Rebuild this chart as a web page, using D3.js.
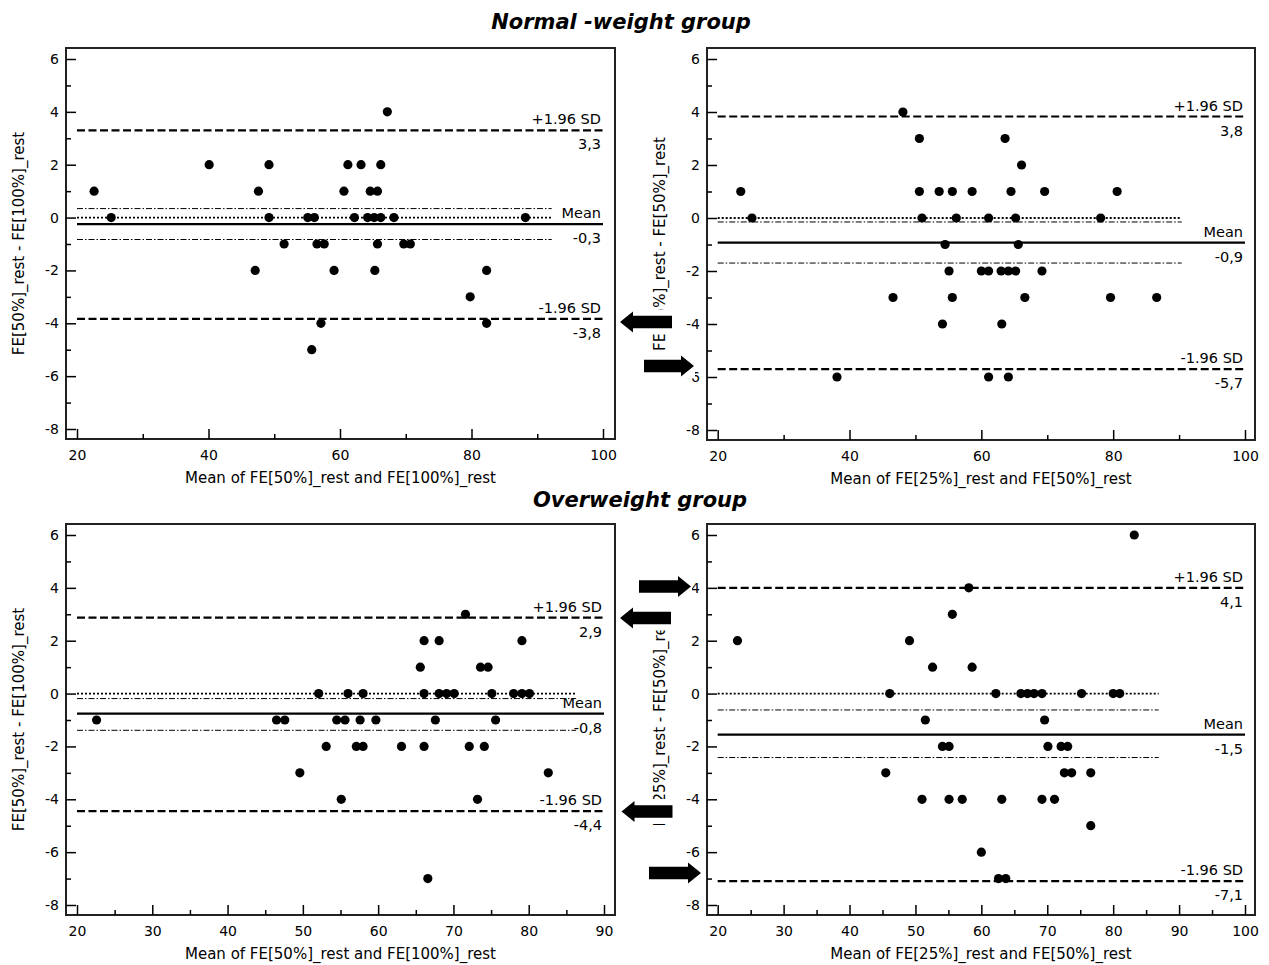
<!DOCTYPE html>
<html>
<head>
<meta charset="utf-8">
<script src="https://cdn.jsdelivr.net/npm/d3@7"></script>
<style>
  body { margin: 0; background: #fff; }
  svg text { font-family: 'DejaVu Sans', Verdana, sans-serif; fill: #000; }
</style>
</head>
<body>
<svg id="chart" width="1269" height="965"></svg>
<script>
// Bland-Altman plots, FE at rest. Panels: [normal 50/100, normal 25/50, over 50/100, over 25/50]

// normal-weight, FE[50%] vs FE[100%]
const normal50Mean = [22.6, 25.2, 40.1, 47.6, 49.2, 49.2, 47.1, 51.5, 55.1, 56.1, 56.5, 57.6, 57.1, 55.7,
  67.2, 61.2, 63.2, 66.2, 60.6, 64.6, 65.7, 62.2, 64.2, 65.2, 66.2, 68.2, 88.2, 59.1, 65.3, 65.7, 69.7,
  70.7, 82.3, 79.8, 82.3];
const normal50Diff = [1, 0, 2, 1, 2, 0, -2, -1, 0, 0, -1, -1, -4, -5,
  4, 2, 2, 2, 1, 1, 1, 0, 0, 0, 0, 0, 0, -2, -2, -1, -1,
  -1, -2, -3, -4];

// normal-weight, FE[25%] vs FE[50%]
const normal25Mean = [23.5, 25.2, 48.1, 50.6, 50.6, 53.6, 51.0, 46.6, 38.1, 55.6, 58.6, 64.5, 69.6, 80.6,
  63.6, 66.1, 56.2, 61.1, 65.2, 78.1, 54.5, 65.6, 55.1, 60.0, 61.1, 63.0, 64.1, 65.2, 69.2, 55.6, 66.6,
  79.6, 86.6, 54.1, 63.1, 61.1, 64.1];
const normal25Diff = [1, 0, 4, 3, 1, 1, 0, -3, -6, 1, 1, 1, 1, 1,
  3, 2, 0, 0, 0, 0, -1, -1, -2, -2, -2, -2, -2, -2, -2, -3, -3,
  -3, -3, -4, -4, -6, -6];

// overweight, FE[50%] vs FE[100%]
const over50Mean = [22.6, 46.5, 47.6, 49.6, 52.1, 53.1, 56.0, 58.0, 66.1, 68.1, 69.1, 70.1, 75.1, 78.0,
  79.1, 80.1, 71.6, 66.1, 68.1, 79.1, 65.6, 73.6, 74.6, 54.5, 55.6, 57.6, 59.7, 67.6, 75.6, 57.1, 58.0,
  63.1, 66.1, 72.1, 74.1, 82.6, 55.1, 73.2, 66.6];
const over50Diff = [-1, -1, -1, -3, 0, -2, 0, 0, 0, 0, 0, 0, 0, 0,
  0, 0, 3, 2, 2, 2, 1, 1, 1, -1, -1, -1, -1, -1, -1, -2, -2,
  -2, -2, -2, -2, -3, -4, -4, -7];

// overweight, FE[25%] vs FE[50%]
const over25Mean = [23.0, 49.1, 52.6, 46.1, 51.5, 45.5, 51.0, 83.2, 58.1, 55.6, 58.6, 62.2, 66.0, 67.0,
  68.0, 69.2, 75.2, 80.0, 81.0, 69.6, 54.1, 55.1, 70.1, 72.1, 73.1, 72.6, 73.7, 76.6, 55.1, 57.1,
  63.1, 69.2, 71.1, 76.6, 60.0, 62.6, 63.7];
const over25Diff = [2, 2, 1, 0, -1, -3, -4, 6, 4, 3, 1, 0, 0, 0,
  0, 0, 0, 0, 0, -1, -2, -2, -2, -2, -2, -3, -3, -3, -4, -4,
  -4, -4, -4, -5, -6, -7, -7];

// limits of agreement and 95% CI of the mean difference, one entry per panel
const loaUpper = [3.30, 3.83, 2.87, 4.00];
const loaLower = [-3.83, -5.70, -4.45, -7.10];
const meanDiff = [-0.25, -0.93, -0.76, -1.55];
const ciHigh = [0.34, -0.15, -0.19, -0.62];
const ciLow = [-0.83, -1.70, -1.39, -2.42];
const ciEnd = [92.2, 90.4, 86.3, 86.9];   // x where equality / CI lines stop
const upperLabels = ['3,3', '3,8', '2,9', '4,1'];
const meanLabels = ['-0,3', '-0,9', '-0,8', '-1,5'];
const lowerLabels = ['-3,8', '-5,7', '-4,4', '-7,1'];

const xDomains = [[20, 100], [20, 100], [20, 90], [20, 100]];
const xMajorTicks = [[20, 40, 60, 80, 100], [20, 40, 60, 80, 100],
  [20, 30, 40, 50, 60, 70, 80, 90], [20, 30, 40, 50, 60, 70, 80, 90, 100]];
const xMinorTicks = [[30, 50, 70, 90], [30, 50, 70, 90],
  [25, 35, 45, 55, 65, 75, 85], [25, 35, 45, 55, 65, 75, 85, 95]];
const yMajorTicks = [-8, -6, -4, -2, 0, 2, 4, 6];
const yMinorTicks = [-7, -5, -3, -1, 1, 3, 5];

const xTitles = ['Mean of FE[50%]_rest and FE[100%]_rest', 'Mean of FE[25%]_rest and FE[50%]_rest',
  'Mean of FE[50%]_rest and FE[100%]_rest', 'Mean of FE[25%]_rest and FE[50%]_rest'];
const yTitles = ['FE[50%]_rest - FE[100%]_rest', 'FE[25%]_rest - FE[50%]_rest',
  'FE[50%]_rest - FE[100%]_rest', 'FE[25%]_rest - FE[50%]_rest'];
const groupTitles = ['Normal -weight group', 'Overweight group'];

const seriesMean = [normal50Mean, normal25Mean, over50Mean, over25Mean];
const seriesDiff = [normal50Diff, normal25Diff, over50Diff, over25Diff];

// pixel layout of each panel frame
const layout = [
  { left: 66, right: 615, top: 48, bottom: 439, x0: 77, x1: 603, yTitleX: 24 },
  { left: 707, right: 1255, top: 48, bottom: 440, x0: 717.7, x1: 1245, yTitleX: 665 },
  { left: 66, right: 615, top: 524, bottom: 915, x0: 77, x1: 604, yTitleX: 24 },
  { left: 707, right: 1255, top: 524, bottom: 915, x0: 717.7, x1: 1245, yTitleX: 665 }
];

const svg = d3.select('#chart');
const plain = d => String(d);   // hyphen minus, as in the original figure

function drawPanel(i) {
  const L = layout[i];
  const x = d3.scaleLinear().domain(xDomains[i]).range([L.x0, L.x1]);
  const y = d3.scaleLinear().domain([-8, 6]).range([L.bottom - 10, L.top + 11]);
  const g = svg.append('g');
  const xStart = xDomains[i][0], xStop = xDomains[i][1];

  g.append('rect')
    .attr('x', L.left).attr('y', L.top)
    .attr('width', L.right - L.left).attr('height', L.bottom - L.top)
    .attr('fill', 'none').attr('stroke', '#222').attr('stroke-width', 2);

  const hline = (v, x2, width, dash) => g.append('line')
    .attr('x1', x(xStart)).attr('x2', x(x2))
    .attr('y1', y(v)).attr('y2', y(v))
    .attr('stroke', '#000').attr('stroke-width', width)
    .attr('stroke-dasharray', dash);

  hline(0, ciEnd[i], 1.8, '2,2');
  hline(ciHigh[i], ciEnd[i], 1, '6,2,1.5,2');
  hline(ciLow[i], ciEnd[i], 1, '6,2,1.5,2');
  hline(meanDiff[i], xStop, 2.2, null);
  hline(loaUpper[i], xStop, 2.2, '8,3.5');
  hline(loaLower[i], xStop, 2.2, '8,3.5');

  g.append('g').selectAll('circle')
    .data(d3.zip(seriesMean[i], seriesDiff[i]))
    .join('circle')
    .attr('cx', d => x(d[0]))
    .attr('cy', d => y(d[1]))
    .attr('r', 4.6)
    .attr('fill', '#000');

  // right-aligned labels above/below each reference line
  const lx = x(xStop) - 2;
  const lineLabel = (v, above, below) => {
    g.append('text').attr('x', lx).attr('y', y(v) - 6)
      .attr('text-anchor', 'end').attr('font-size', 14.5).text(above);
    g.append('text').attr('x', lx).attr('y', y(v) + 19)
      .attr('text-anchor', 'end').attr('font-size', 14.5).text(below);
  };
  lineLabel(loaUpper[i], '+1.96 SD', upperLabels[i]);
  lineLabel(meanDiff[i], 'Mean', meanLabels[i]);
  lineLabel(loaLower[i], '-1.96 SD', lowerLabels[i]);

  // inward ticks on left and bottom
  g.append('g').attr('transform', `translate(${L.left},0)`)
    .call(d3.axisLeft(y).tickValues(yMajorTicks).tickSize(-10).tickPadding(7).tickFormat(plain));
  g.append('g').attr('transform', `translate(${L.left},0)`)
    .call(d3.axisLeft(y).tickValues(yMinorTicks).tickSize(-5).tickFormat(''));
  g.append('g').attr('transform', `translate(0,${L.bottom})`)
    .call(d3.axisBottom(x).tickValues(xMajorTicks[i]).tickSize(-10).tickPadding(11).tickFormat(plain));
  g.append('g').attr('transform', `translate(0,${L.bottom})`)
    .call(d3.axisBottom(x).tickValues(xMinorTicks[i]).tickSize(-5).tickFormat(''));

  g.selectAll('.domain').remove();
  g.selectAll('.tick line').attr('stroke', '#000').attr('stroke-width', 1.5);
  g.selectAll('.tick text').attr('font-size', 14).attr('font-family', "'DejaVu Sans', Verdana, sans-serif");

  g.append('text')
    .attr('x', (L.left + L.right) / 2).attr('y', L.bottom + 44)
    .attr('text-anchor', 'middle').attr('font-size', 15)
    .text(xTitles[i]);

  g.append('text')
    .attr('transform', `translate(${L.yTitleX},${(L.top + L.bottom) / 2}) rotate(-90)`)
    .attr('text-anchor', 'middle').attr('font-size', 15)
    .text(yTitles[i]);
}

d3.range(4).forEach(drawPanel);

// group headings
svg.append('text').attr('x', 621).attr('y', 29)
  .attr('text-anchor', 'middle').attr('font-size', 21)
  .attr('font-weight', 'bold').attr('font-style', 'italic')
  .text(groupTitles[0]);
svg.append('text').attr('x', 640).attr('y', 507)
  .attr('text-anchor', 'middle').attr('font-size', 21)
  .attr('font-weight', 'bold').attr('font-style', 'italic')
  .text(groupTitles[1]);

// block arrows pasted over the gap, pointing at the limits of agreement
const arrows = [
  { tx: 620, ty: 322, dir: -1, len: 52 },
  { tx: 694, ty: 366, dir: 1, len: 50 },
  { tx: 691, ty: 586.5, dir: 1, len: 52 },
  { tx: 620, ty: 618, dir: -1, len: 51 },
  { tx: 621.5, ty: 811.5, dir: -1, len: 51 },
  { tx: 701, ty: 873, dir: 1, len: 52 }
];
const head = 13, headHalf = 10.5, bodyHalf = 6.3;

arrows.forEach(a => {
  const s = -a.dir; // direction from tip back to the tail
  const xs = [a.tx, a.tx + s * a.len];
  svg.append('rect')
    .attr('x', d3.min(xs) - 1).attr('y', a.ty - headHalf - 2)
    .attr('width', a.len + 2).attr('height', headHalf * 2 + 4)
    .attr('fill', '#fff');
  const pts = [
    [a.tx, a.ty],
    [a.tx + s * head, a.ty - headHalf],
    [a.tx + s * head, a.ty - bodyHalf],
    [a.tx + s * a.len, a.ty - bodyHalf],
    [a.tx + s * a.len, a.ty + bodyHalf],
    [a.tx + s * head, a.ty + bodyHalf],
    [a.tx + s * head, a.ty + headHalf]
  ];
  svg.append('path')
    .attr('d', d3.line()(pts) + 'Z')
    .attr('fill', '#000');
});
</script>
</body>
</html>
